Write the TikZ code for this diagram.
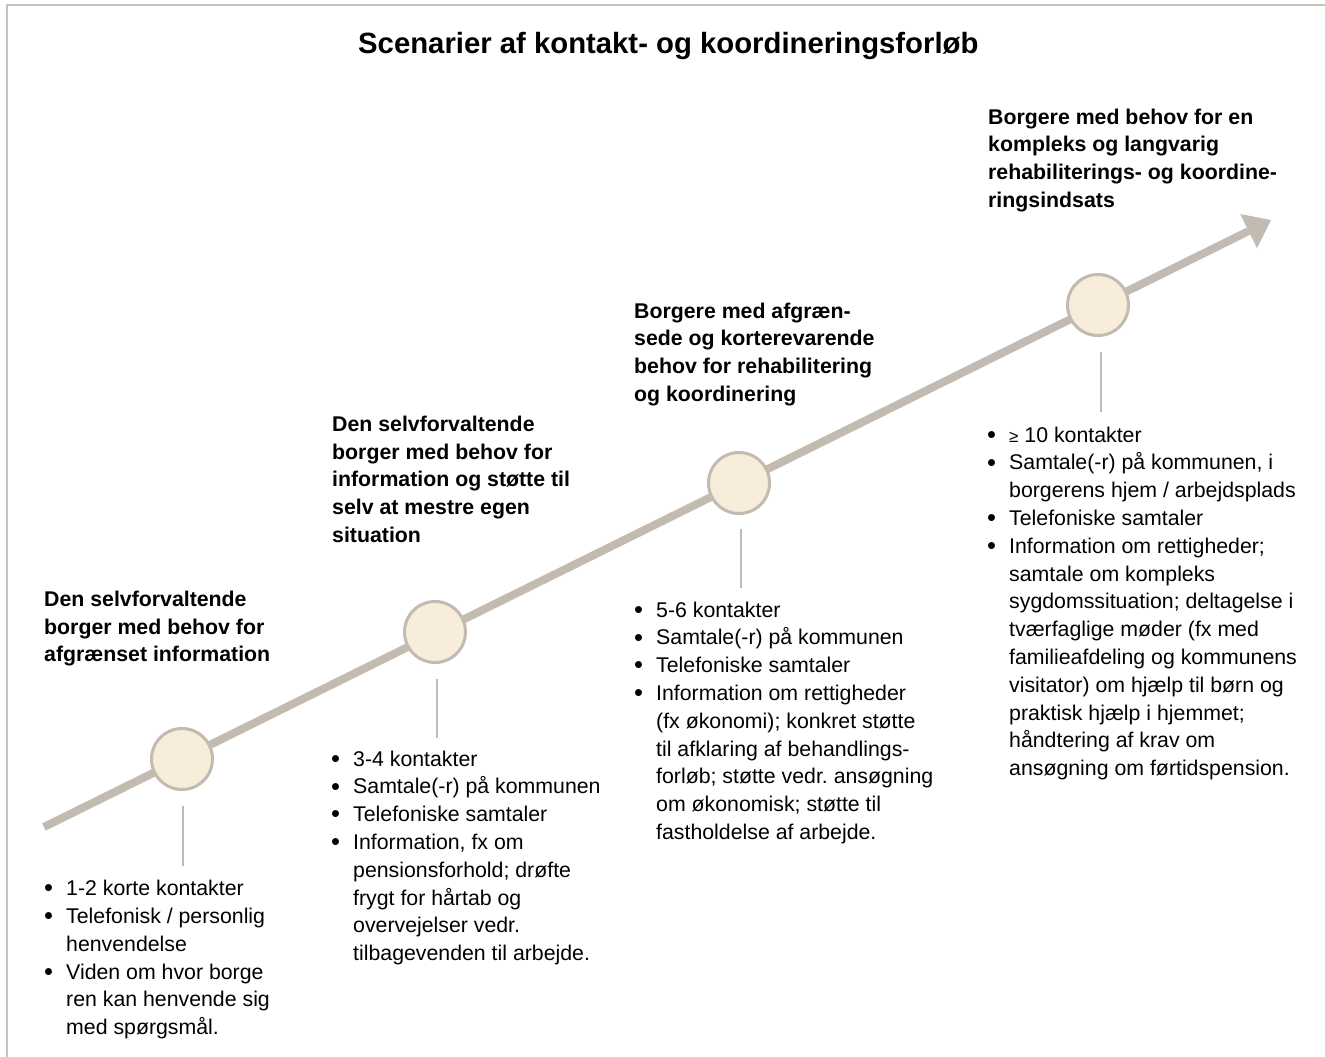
\documentclass[tikz,border=0pt]{standalone}
\usepackage{fontspec}
\setmainfont{Liberation Sans}
\usetikzlibrary{arrows.meta,calc}
\definecolor{linegray}{RGB}{195,186,177}
\definecolor{circfill}{RGB}{248,236,218}
\definecolor{framegray}{RGB}{200,192,185}
\newcommand\bitem{\makebox[22pt][l]{\raisebox{-1.2pt}{\scalebox{1.2}{\textbullet}}}}
\newcommand\bcont{\makebox[22pt][l]{}}
\frenchspacing
\begin{document}
\begin{tikzpicture}[x=1pt,y=-1pt,
  stage/.style={circle, draw=linegray, line width=3pt, fill=circfill, minimum size=61pt, inner sep=0pt},
  tick/.style={draw=linegray, line width=2pt},
  head/.style={anchor=base west, inner sep=0pt, font=\bfseries\fontsize{21.3}{27.6}\selectfont},
  body/.style={anchor=base west, inner sep=0pt, font=\fontsize{21.3}{27.8}\selectfont},
]
\useasboundingbox (0,0) rectangle (1325,1057);
\draw[framegray, line width=2.5pt] (7,1060) -- (7,5) -- (1330,5);

\node[anchor=base west, inner sep=0pt, font=\bfseries\fontsize{29.3}{35}\selectfont] (title) at (358,53.5) {Scenarier af kontakt- og koordineringsforløb};

\coordinate (start) at (44,827);
\coordinate (tip) at (1271,220);
\draw[linegray, line width=8pt, -{Triangle[length=25pt,width=38pt,line width=0pt]}] (start) -- (tip);

\node[stage] (c1) at (182,759) {};
\node[stage] (c2) at (435,632) {};
\node[stage] (c3) at (739,483) {};
\node[stage] (c4) at (1098,305) {};

\draw[tick] ($(c1.center)+(1,47)$) -- ($(c1.center)+(1,107)$);
\draw[tick] ($(c2.center)+(2,47)$) -- ($(c2.center)+(2,106)$);
\draw[tick] ($(c3.center)+(2,46)$) -- ($(c3.center)+(2,105)$);
\draw[tick] ($(c4.center)+(3,47)$) -- ($(c4.center)+(3,107)$);

\node[head] (h1) at (44,606.7) {\begin{tabular}[t]{@{}l@{}}Den selvforvaltende\\ borger med behov for\\ afgrænset information\end{tabular}};
\node[head] (h2) at (332,431.7) {\begin{tabular}[t]{@{}l@{}}Den selvforvaltende\\ borger med behov for\\ information og støtte til\\ selv at mestre egen\\ situation\end{tabular}};
\node[head] (h3) at (634,318.3) {\begin{tabular}[t]{@{}l@{}}Borgere med afgræn-\\ sede og korterevarende\\ behov for rehabilitering\\ og koordinering\end{tabular}};
\node[head] (h4) at (988,124.2) {\begin{tabular}[t]{@{}l@{}}Borgere med behov for en\\ kompleks og langvarig\\ rehabiliterings- og koordine-\\ ringsindsats\end{tabular}};

\node[body] (b1) at (44,895.7) {\begin{tabular}[t]{@{}l@{}}\bitem 1-2 korte kontakter\\ \bitem Telefonisk / personlig\\ \bcont henvendelse\\ \bitem Viden om hvor borge\\ \bcont ren kan henvende sig\\ \bcont med spørgsmål.\end{tabular}};
\node[body] (b2) at (331,766) {\begin{tabular}[t]{@{}l@{}}\bitem 3-4 kontakter\\ \bitem Samtale(-r) på kommunen\\ \bitem Telefoniske samtaler\\ \bitem Information, fx om\\ \bcont pensionsforhold; drøfte\\ \bcont frygt for hårtab og\\ \bcont overvejelser vedr.\\ \bcont tilbagevenden til arbejde.\end{tabular}};
\node[body] (b3) at (634,617) {\begin{tabular}[t]{@{}l@{}}\bitem 5-6 kontakter\\ \bitem Samtale(-r) på kommunen\\ \bitem Telefoniske samtaler\\ \bitem Information om rettigheder\\ \bcont (fx økonomi); konkret støtte\\ \bcont til afklaring af behandlings-\\ \bcont forløb; støtte vedr. ansøgning\\ \bcont om økonomisk; støtte til\\ \bcont fastholdelse af arbejde.\end{tabular}};
\node[body] (b4) at (987,442) {\begin{tabular}[t]{@{}l@{}}\bitem {\fontsize{17}{17}\selectfont ≥} 10 kontakter\\ \bitem Samtale(-r) på kommunen, i\\ \bcont borgerens hjem / arbejdsplads\\ \bitem Telefoniske samtaler\\ \bitem Information om rettigheder;\\ \bcont samtale om kompleks\\ \bcont sygdomssituation; deltagelse i\\ \bcont tværfaglige møder (fx med\\ \bcont familieafdeling og kommunens\\ \bcont visitator) om hjælp til børn og\\ \bcont praktisk hjælp i hjemmet;\\ \bcont håndtering af krav om\\ \bcont ansøgning om førtidspension.\end{tabular}};
\end{tikzpicture}
\end{document}
